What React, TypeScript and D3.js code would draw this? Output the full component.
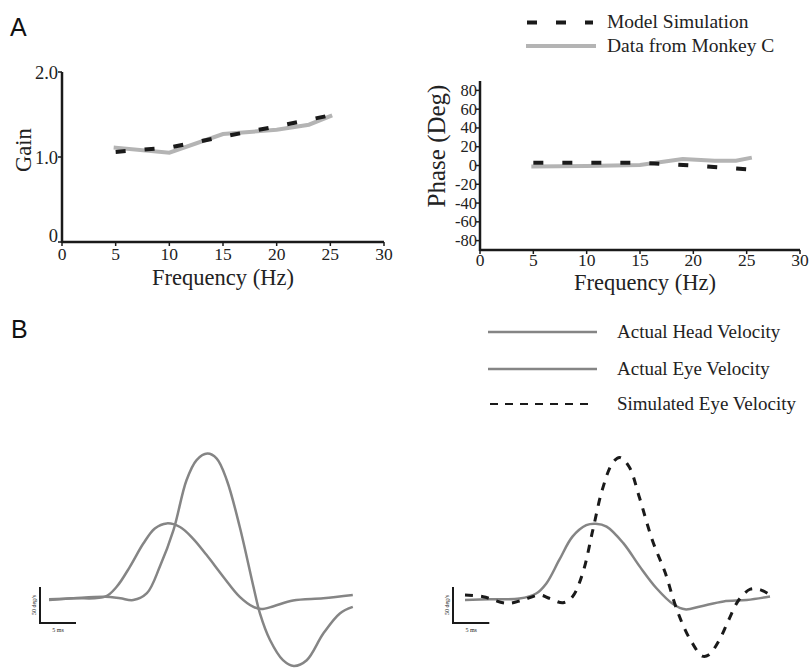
import React from "react";
import * as d3 from "d3";

// ---- Panel A data ----
const freqTicks = [0, 5, 10, 15, 20, 25, 30];
const gainTicks = [0, 1.0, 2.0];
const gainTickLabels = ["0", "1.0", "2.0"];
const phaseTicks = [80, 60, 40, 20, 0, -20, -40, -60, -80];

const monkeyFreq = [5, 10, 15, 20, 23, 25];
const gainMonkey = [1.11, 1.05, 1.27, 1.32, 1.38, 1.48];
const modelFreq = [5, 10, 15, 20, 25];
const gainModel = [1.06, 1.11, 1.24, 1.36, 1.49];

const phaseMonkeyFreq = [5, 10, 15, 19, 22, 24, 25.3];
const phaseMonkey = [-1, -0.5, 0.5, 7, 5, 5, 8];
const phaseModel = [3, 3, 3, 0, -4];

// ---- Panel B data (time in ms, velocity in deg/s) ----
const leftEyeT = [0, 3.4, 7.8, 9.4, 11.25, 13.1, 14.7, 16.35, 18.2, 20.0, 21.9, 24.2, 26.5, 28.4, 29.5, 31.2, 33.9, 38.1, 42.2];
const leftEyeV = [-0.4, 1, 3.2, 17, 45, 77, 98, 105, 100, 84, 61, 31, 3, -11, -14, -10, -2, 1, 5.5];
const leftHeadT = [0, 3.4, 7.8, 9.9, 11.7, 13.6, 15.4, 17.3, 19.1, 20.5, 22.0, 23.3, 24.7, 26.5, 28.4, 29.3, 30.7, 32.5, 34.0, 35.8, 38.1, 40.4, 42.2];
const leftHeadV = [-1.4, 1, 3.2, 1, -1.4, 8, 45, 96, 165, 193, 202, 195, 165, 100, 17, -20, -57, -85, -93, -85, -48, -20, -11];

const rightEyeT = [0, 3.4, 7.5, 9.8, 11.2, 13.0, 14.8, 16.7, 18.0, 19.5, 21.8, 24.1, 26.4, 28.7, 30.3, 32.4, 35.6, 38.8, 42.0];
const rightEyeV = [0, 1, 2, 9, 23, 56, 88, 104, 106, 102, 79, 46, 16, -6, -13, -9, -2, 0, 5];
const simEyeT = [0, 2.5, 5.7, 8.0, 10.3, 11.6, 13.5, 14.8, 16.2, 17.6, 18.9, 20.3, 21.3, 22.6, 24.0, 25.8, 27.6, 28.8, 29.9, 31.3, 32.7, 33.6, 35.0, 36.3, 37.7, 39.3, 40.7, 42.0];
const simEyeV = [7, 4.6, -4.6, 0, 7, 2.4, -3.8, 4.6, 37, 97, 153, 190, 198, 185, 143, 83, 37, -2.4, -32, -60, -78, -76, -56, -28, 0, 15, 14, 7];

const legendA = ["Model Simulation", "Data from Monkey C"];
const legendB = ["Actual Head Velocity", "Actual Eye Velocity", "Simulated Eye Velocity"];

const SERIF = "'Liberation Serif', 'Times New Roman', serif";
const SANS = "'Liberation Sans', Arial, sans-serif";
const LIGHT = "#b4b4b4";
const TRACE = "#858585";
const DARK = "#1a1a1a";

function zip(xs: number[], ys: number[]): [number, number][] {
  return xs.map((x, i) => [x, ys[i]]);
}

export default function App() {
  // Gain panel scales
  const gx = d3.scaleLinear().domain([0, 30]).range([62, 384]);
  const gy = d3.scaleLinear().domain([0, 2]).range([242, 72]);
  // Phase panel scales
  const px = d3.scaleLinear().domain([0, 30]).range([480, 800]);
  const py = d3.scaleLinear().domain([-90, 90]).range([250, 81]);

  const gLine = d3.line<[number, number]>().x((d) => gx(d[0])).y((d) => gy(d[1]));
  const pLine = d3.line<[number, number]>().x((d) => px(d[0])).y((d) => py(d[1]));

  // Trace scales
  const lx = d3.scaleLinear().domain([0, 42.2]).range([49, 352.8]);
  const ly = d3.scaleLinear().domain([0, 50]).range([599, 563]);
  const rx = d3.scaleLinear().domain([0, 42]).range([465, 770]);
  const ry = d3.scaleLinear().domain([0, 50]).range([600, 564]);
  const lLine = d3.line<[number, number]>().x((d) => lx(d[0])).y((d) => ly(d[1])).curve(d3.curveCatmullRom);
  const rLine = d3.line<[number, number]>().x((d) => rx(d[0])).y((d) => ry(d[1])).curve(d3.curveCatmullRom);

  const tickFont = 17.5;
  const phaseTickFont = 16.5;
  const titleFont = 22.5;

  return (
    <svg width={812} height={668} style={{ position: "absolute", left: 0, top: 0, background: "#fff" }}>
      <rect x={0} y={0} width={812} height={668} fill="#fff" />
      {/* Panel letters */}
      <text x={10} y={36} fontFamily={SANS} fontSize={25} fill="#111">A</text>
      <text x={11} y={338} fontFamily={SANS} fontSize={25} fill="#111">B</text>

      {/* ---- Gain panel ---- */}
      <g>
        <line x1={gx(0)} x2={gx(30)} y1={gy(0)} y2={gy(0)} stroke={DARK} strokeWidth={2.5} />
        <line x1={gx(0)} x2={gx(0)} y1={gy(0) + 1} y2={gy(2)} stroke={DARK} strokeWidth={2.5} />
        {freqTicks.map((t) => (
          <g key={"gx" + t}>
            <line x1={gx(t)} x2={gx(t)} y1={gy(0)} y2={gy(0) + 4} stroke={DARK} strokeWidth={1.5} />
            <text x={gx(t)} y={260} textAnchor="middle" fontFamily={SERIF} fontSize={tickFont} fill="#222">{t}</text>
          </g>
        ))}
        {gainTicks.map((t, i) => (
          <g key={"gy" + t}>
            <line x1={gx(0) - 4} x2={gx(0)} y1={gy(t)} y2={gy(t)} stroke={DARK} strokeWidth={1.5} />
            <text x={58} y={i === 0 ? gy(t) : gy(t) + 7} textAnchor="end" fontFamily={SERIF} fontSize={tickFont + 1} fill="#222">{gainTickLabels[i]}</text>
          </g>
        ))}
        <text transform={`translate(31,150) rotate(-90)`} textAnchor="middle" fontFamily={SERIF} fontSize={titleFont} fill="#222">Gain</text>
        <text x={223} y={284.5} textAnchor="middle" fontFamily={SERIF} fontSize={titleFont} fill="#222">Frequency (Hz)</text>
        <path d={gLine(zip(monkeyFreq, gainMonkey)) || ""} fill="none" stroke={LIGHT} strokeWidth={4} strokeLinecap="square" />
        <path d={gLine(zip(modelFreq, gainModel)) || ""} fill="none" stroke={DARK} strokeWidth={4} strokeDasharray="10,19" />
      </g>

      {/* ---- Phase panel ---- */}
      <g>
        <line x1={px(0)} x2={px(30)} y1={py(-90)} y2={py(-90)} stroke={DARK} strokeWidth={2.5} />
        <line x1={px(0)} x2={px(0)} y1={py(-90) + 1} y2={py(90)} stroke={DARK} strokeWidth={2.5} />
        {freqTicks.map((t) => (
          <g key={"px" + t}>
            <line x1={px(t)} x2={px(t)} y1={py(-90)} y2={py(-90) + 4} stroke={DARK} strokeWidth={1.5} />
            <text x={px(t)} y={266} textAnchor="middle" fontFamily={SERIF} fontSize={tickFont} fill="#222">{t}</text>
          </g>
        ))}
        {phaseTicks.map((t) => (
          <g key={"py" + t}>
            <line x1={px(0) - 4} x2={px(0)} y1={py(t)} y2={py(t)} stroke={DARK} strokeWidth={1.5} />
            <text x={477} y={py(t) + 5.5} textAnchor="end" fontFamily={SERIF} fontSize={phaseTickFont} fill="#222">{t}</text>
          </g>
        ))}
        <text transform={`translate(445,146) rotate(-90)`} textAnchor="middle" fontFamily={SERIF} fontSize={25} fill="#222">Phase (Deg)</text>
        <text x={645} y={289.5} textAnchor="middle" fontFamily={SERIF} fontSize={titleFont} fill="#222">Frequency (Hz)</text>
        <path d={pLine(zip(phaseMonkeyFreq, phaseMonkey)) || ""} fill="none" stroke={LIGHT} strokeWidth={4} strokeLinecap="square" />
        <path d={pLine(zip(modelFreq, phaseModel)) || ""} fill="none" stroke={DARK} strokeWidth={4} strokeDasharray="10,19" />
      </g>

      {/* ---- Legend A ---- */}
      <g>
        <line x1={527} x2={593} y1={22.5} y2={22.5} stroke={DARK} strokeWidth={4} strokeDasharray="10,19" />
        <text x={607} y={28} fontFamily={SERIF} fontSize={19.5} fill="#222">{legendA[0]}</text>
        <line x1={526} x2={596} y1={46} y2={46} stroke={LIGHT} strokeWidth={4} />
        <text x={607} y={52} fontFamily={SERIF} fontSize={19.5} fill="#222">{legendA[1]}</text>
      </g>

      {/* ---- Legend B ---- */}
      <g>
        <line x1={488} x2={597} y1={332} y2={332} stroke={TRACE} strokeWidth={2.5} />
        <text x={617} y={338} fontFamily={SERIF} fontSize={19} fill="#222">{legendB[0]}</text>
        <line x1={488} x2={597} y1={369} y2={369} stroke={TRACE} strokeWidth={2.5} />
        <text x={617} y={375} fontFamily={SERIF} fontSize={19} fill="#222">{legendB[1]}</text>
        <line x1={490} x2={590} y1={404} y2={404} stroke={DARK} strokeWidth={2} strokeDasharray="8,7" />
        <text x={617} y={410} fontFamily={SERIF} fontSize={19} fill="#222">{legendB[2]}</text>
      </g>

      {/* ---- Left traces ---- */}
      <g>
        <path d={lLine(zip(leftEyeT, leftEyeV)) || ""} fill="none" stroke={TRACE} strokeWidth={2.5} />
        <path d={lLine(zip(leftHeadT, leftHeadV)) || ""} fill="none" stroke={TRACE} strokeWidth={2.5} />
        {/* scale bar */}
        <path d={`M${lx(0) - 9},${ly(0) - 12} V${ly(-50) - 12} H${lx(5) - 9}`} fill="none" stroke={DARK} strokeWidth={2} />
        <text x={(lx(0) - 9 + lx(5) - 9) / 2} y={ly(-50) - 3} textAnchor="middle" fontFamily={SERIF} fontSize={6} fill="#222">5 ms</text>
        <text transform={`translate(${lx(0) - 13},${(ly(0) + ly(-50)) / 2 - 12}) rotate(-90)`} textAnchor="middle" fontFamily={SERIF} fontSize={6} fill="#222">50 deg/s</text>
      </g>

      {/* ---- Right traces ---- */}
      <g>
        <path d={rLine(zip(rightEyeT, rightEyeV)) || ""} fill="none" stroke={TRACE} strokeWidth={2.5} />
        <path d={rLine(zip(simEyeT, simEyeV)) || ""} fill="none" stroke={DARK} strokeWidth={3} strokeDasharray="8,8" />
        <path d={`M${rx(0) - 12},${ry(0) - 13} V${ry(-50) - 13} H${rx(5) - 12}`} fill="none" stroke={DARK} strokeWidth={2} />
        <text x={(rx(0) - 12 + rx(5) - 12) / 2} y={ry(-50) - 4} textAnchor="middle" fontFamily={SERIF} fontSize={6} fill="#222">5 ms</text>
        <text transform={`translate(${rx(0) - 16},${(ry(0) + ry(-50)) / 2 - 13}) rotate(-90)`} textAnchor="middle" fontFamily={SERIF} fontSize={6} fill="#222">50 deg/s</text>
      </g>
    </svg>
  );
}
